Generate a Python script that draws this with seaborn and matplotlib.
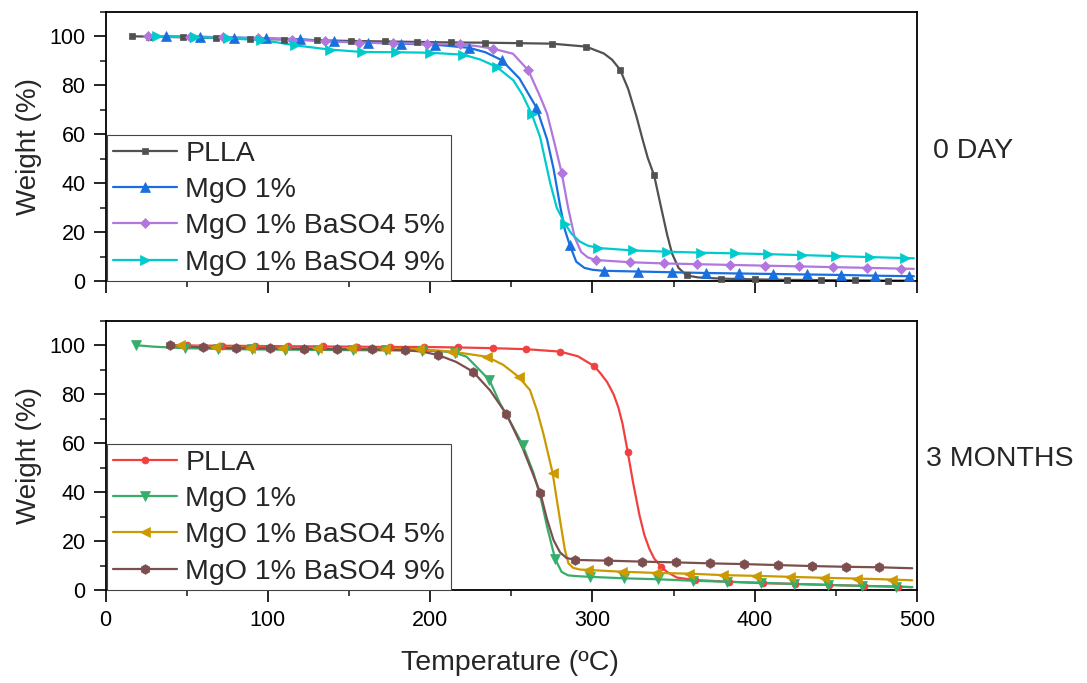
import numpy as np
import pandas as pd
import matplotlib
matplotlib.use("Agg")
import matplotlib.pyplot as plt
from matplotlib.lines import Line2D
from matplotlib.ticker import MultipleLocator
import seaborn as sns

# ---------------- data ----------------
labels = ["PLLA", "MgO 1%", "MgO 1% BaSO4 5%", "MgO 1% BaSO4 9%"]
panel_titles = ["0 DAY", "3 MONTHS"]
x_ticks = [0, 100, 200, 300, 400, 500]
y_ticks = [0, 20, 40, 60, 80, 100]

# ---- 0 DAY ----
d0_plla_T = [16, 27, 48, 68, 89, 110, 130, 151, 172, 192, 213, 234, 255, 275, 296, 317, 338, 358, 379, 400, 420, 441, 462, 482]
d0_plla_W = [100, 99.9, 99.6, 99.3, 99.0, 98.7, 98.4, 98.1, 97.9, 97.7, 97.5, 97.4, 97.2, 97.0, 95.8, 86.4, 43.2, 2.4, 1.1, 0.8, 0.6, 0.5, 0.4, 0.3]
d0_plla_kT = [307, 312, 322, 327, 331, 334, 342, 346, 349, 353, 365, 497]
d0_plla_kW = [93.0, 90.5, 78.5, 67.5, 57.6, 50.5, 31.0, 19.0, 11.4, 5.5, 1.6, 0.3]

d0_mgo_T = [37, 58, 79, 99, 120, 141, 162, 182, 203, 224, 244, 265.5, 286, 307, 328, 349, 370, 390.5, 411, 432, 453, 474, 495]
d0_mgo_W = [100, 99.8, 99.5, 99.2, 98.8, 97.9, 97.4, 97.0, 96.6, 95.3, 90.3, 70.9, 14.8, 4.3, 4.0, 3.7, 3.4, 3.2, 3.0, 2.8, 2.6, 2.3, 2.1]
d0_mgo_kT = [234, 255, 272, 276, 280, 283, 290, 295, 300, 498]
d0_mgo_kW = [93.5, 82.8, 58, 46, 31, 21, 8, 5.5, 4.7, 2.1]

d0_ba5_T = [26, 52, 72.6, 94, 114.7, 135, 156, 177, 198, 218.4, 239, 260.5, 281, 302, 323, 344, 364.6, 385, 406, 427, 448, 469, 490]
d0_ba5_W = [100, 99.8, 99.6, 99.2, 98.7, 98.0, 97.4, 97.2, 97.0, 96.7, 94.9, 86.1, 44.3, 8.7, 7.8, 7.3, 7.0, 6.7, 6.4, 6.1, 5.8, 5.5, 5.2]
d0_ba5_kT = [229, 251, 268, 272, 276, 285, 289, 293, 297, 498]
d0_ba5_kW = [96.0, 92.9, 75, 68.5, 58, 30, 18, 12, 9.8, 5.1]

d0_ba9_T = [32, 55, 75.6, 96, 117, 138, 158, 179, 200, 220.5, 241, 262.6, 283, 303.6, 325, 346, 367, 388, 408, 429, 450, 471, 492.6]
d0_ba9_W = [100, 99.7, 99.2, 98.4, 96.3, 94.6, 93.6, 93.5, 93.3, 92.5, 87.5, 68.2, 23.6, 13.6, 12.6, 12.1, 11.7, 11.4, 11.1, 10.7, 10.3, 9.9, 9.5]
d0_ba9_kT = [106, 231, 251.3, 257, 267.7, 271, 274, 278, 287, 292, 297, 498]
d0_ba9_kW = [97.5, 90.5, 82, 76, 59, 49, 40, 30, 19.5, 16.3, 14.6, 9.4]

# ---- 3 MONTHS ----
m3_plla_T = [50, 71.6, 92, 112.6, 134, 155, 175, 196, 217, 238.5, 259, 280, 301, 321.7, 342.3, 363, 384, 405, 425, 446, 467, 488]
m3_plla_W = [99.9, 99.8, 99.7, 99.6, 99.5, 99.4, 99.3, 99.3, 99.1, 98.8, 98.4, 97.4, 91.5, 56.5, 9.6, 4.2, 3.5, 2.9, 2.6, 2.2, 1.8, 1.5]
m3_plla_kT = [42, 291, 305, 309, 313, 316, 318.5, 325, 329, 332, 335, 338, 346, 352, 497]
m3_plla_kW = [100, 95.5, 88.5, 85, 80, 74.5, 68, 44, 30.5, 22.5, 17, 13, 7.5, 5.2, 1.3]

m3_mgo_T = [18.8, 49, 69.5, 90, 110.6, 131, 152.7, 173, 195, 215, 236.5, 257, 277, 298.5, 319.5, 340.6, 362, 383, 404, 424, 445, 466, 487]
m3_mgo_W = [100, 98.8, 98.5, 98.3, 98.2, 98.1, 98.0, 97.9, 97.8, 97.0, 85.8, 59.3, 12.8, 5.5, 4.9, 4.5, 3.9, 3.5, 3.1, 2.6, 2.2, 1.8, 1.5]
m3_mgo_kT = [30, 206, 222.5, 243, 250, 263.6, 268, 272, 281, 285, 290, 497]
m3_mgo_kW = [99.4, 97.6, 95.3, 76.3, 68, 48, 38, 26, 7.5, 6.1, 5.8, 1.3]

m3_ba5_T = [46, 67.5, 89, 109, 130, 151, 172, 193, 213.5, 235, 254.5, 275.5, 297.5, 318, 339, 359.7, 380.3, 401, 421.8, 442.7, 463, 484.4]
m3_ba5_W = [100, 99.2, 99.0, 98.9, 98.8, 98.7, 98.6, 98.4, 97.4, 95.3, 87.1, 47.7, 8.3, 7.6, 7.1, 6.8, 6.2, 5.9, 5.5, 5.1, 4.8, 4.4]
m3_ba5_kT = [245, 261.5, 266, 269.7, 278, 281, 283, 285.2, 288, 292, 497]
m3_ba5_kW = [92, 81.7, 73, 64, 37, 24.6, 16.5, 11, 9.2, 8.5, 4.1]

m3_ba9_T = [39.7, 59.9, 80.4, 101.4, 122.3, 142.8, 164, 184.5, 205, 226.4, 247, 267.9, 289.3, 309.8, 330.7, 351.5, 372.5, 393.4, 414.2, 435.1, 456, 476.6]
m3_ba9_W = [100, 99.1, 98.8, 98.7, 98.5, 98.4, 98.3, 98.0, 96.0, 89.2, 71.9, 39.6, 12.4, 12.1, 11.7, 11.4, 11.0, 10.7, 10.3, 9.9, 9.6, 9.4]
m3_ba9_kT = [195, 216, 237, 257, 263, 272, 276, 280, 284, 497]
m3_ba9_kW = [97.4, 93.2, 81.5, 58, 48, 29, 20.5, 15.5, 13.2, 9.0]

# ---------------- styling ----------------
sns.set_style("ticks")
plt.rcParams["font.family"] = ["Liberation Sans", "DejaVu Sans"]
plt.rcParams["mathtext.default"] = "regular"

colors0 = ["#515151", "#1A6FDF", "#B177DE", "#00CBCC"]
colors3 = ["#F14040", "#37AD6B", "#CC9900", "#7D4E4E"]
markers0 = ["s", "^", "D", ">"]
markers3 = ["o", "v", "<", "h"]
msize0 = [5.0, 7.0, 5.5, 7.0]
msize3 = [5.0, 7.0, 7.0, 7.0]

panels = [
    [(d0_plla_T, d0_plla_W, d0_plla_kT, d0_plla_kW),
     (d0_mgo_T, d0_mgo_W, d0_mgo_kT, d0_mgo_kW),
     (d0_ba5_T, d0_ba5_W, d0_ba5_kT, d0_ba5_kW),
     (d0_ba9_T, d0_ba9_W, d0_ba9_kT, d0_ba9_kW)],
    [(m3_plla_T, m3_plla_W, m3_plla_kT, m3_plla_kW),
     (m3_mgo_T, m3_mgo_W, m3_mgo_kT, m3_mgo_kW),
     (m3_ba5_T, m3_ba5_W, m3_ba5_kT, m3_ba5_kW),
     (m3_ba9_T, m3_ba9_W, m3_ba9_kT, m3_ba9_kW)],
]

fig = plt.figure(figsize=(10.87, 6.83), dpi=100)
ax_top = fig.add_axes([0.0971, 0.5881, 0.7466, 0.3946])
ax_bot = fig.add_axes([0.0971, 0.1357, 0.7466, 0.3947])
axes = [ax_top, ax_bot]
cols = [colors0, colors3]
mks = [markers0, markers3]
mss = [msize0, msize3]
title_pos = [(933, 150.5), (926, 458.5)]

for p, ax in enumerate(axes):
    handles = []
    for i, (T, W, kT, kW) in enumerate(panels[p]):
        c = cols[p][i]
        pts = sorted(zip(list(T) + list(kT), list(W) + list(kW)))
        df_line = pd.DataFrame(pts, columns=["T", "W"])
        sns.lineplot(data=df_line, x="T", y="W", ax=ax, color=c, linewidth=1.6,
                     sort=False, estimator=None, legend=False, zorder=2)
        ax.plot(T, W, linestyle="none", marker=mks[p][i], markersize=mss[p][i],
                color=c, markeredgecolor=c, markeredgewidth=0.5, zorder=3,
                clip_on=False)
        handles.append(Line2D([], [], color=c, linewidth=1.6, marker=mks[p][i],
                              markersize=mss[p][i], markeredgecolor=c,
                              markeredgewidth=0.5))
    ax.set_xlim(0, 500)
    ax.set_ylim(0, 110)
    ax.set_xticks(x_ticks)
    ax.set_yticks(y_ticks)
    ax.xaxis.set_minor_locator(MultipleLocator(50))
    ax.yaxis.set_minor_locator(MultipleLocator(10))
    ax.tick_params(which="major", direction="out", length=8.4, width=1.2,
                   labelsize=15.5, pad=6, colors="black")
    ax.tick_params(which="minor", direction="out", length=4.5, width=1.2)
    for s in ax.spines.values():
        s.set_visible(True)
        s.set_linewidth(1.3)
        s.set_color("black")
    ax.set_ylabel("Weight (%)", fontsize=20)
    ax.yaxis.set_label_coords(-0.078, 0.5)
    ax.set_xlabel("")
    leg = ax.legend(handles, labels, loc="lower left", bbox_to_anchor=(0.002, 0.0),
                    borderaxespad=0, fontsize=20.5, frameon=True, fancybox=False,
                    handlelength=2.25, handletextpad=0.3, labelspacing=0.36,
                    borderpad=0.2, numpoints=1)
    leg.get_frame().set_edgecolor("#444444")
    leg.get_frame().set_linewidth(0.8)
    leg.get_frame().set_alpha(1)
    fig.text(title_pos[p][0] / 1087, 1 - title_pos[p][1] / 683, panel_titles[p],
             fontsize=20.5, ha="left", va="center")

ax_top.tick_params(axis="x", labelbottom=False)
ax_bot.set_xlabel("Temperature (\u00baC)", fontsize=20.5)
ax_bot.xaxis.set_label_coords(0.4985, -0.222)
ax_bot.xaxis.label.set_va("top")

fig.savefig("out.png", dpi=100)
